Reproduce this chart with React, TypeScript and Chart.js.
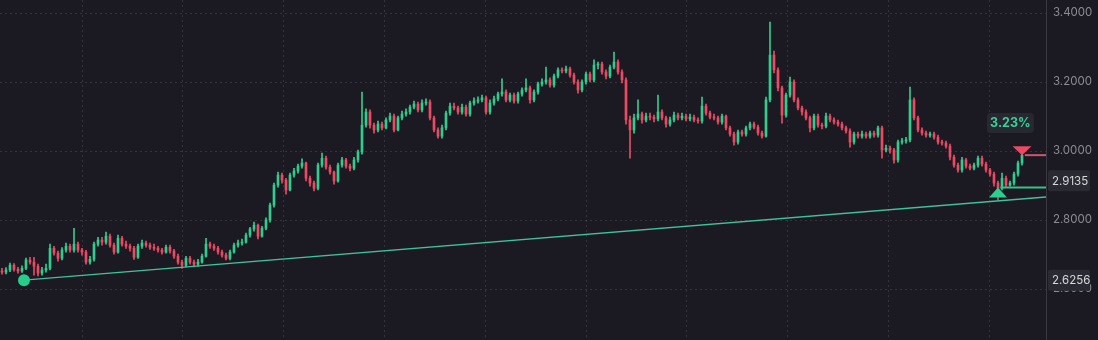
import { useEffect, useRef } from "react";
import { Chart, registerables } from "chart.js";

Chart.register(...registerables);

// ---------- data ----------
const FIRST_OPEN = 2.652;

const closes = [
  2.649, 2.655, 2.669, 2.657, 2.652, 2.660, 2.684, 2.678, 2.666, 2.646,
  2.655, 2.660, 2.718, 2.704, 2.689, 2.713, 2.724, 2.713, 2.730, 2.713,
  2.707, 2.678, 2.686, 2.730, 2.742, 2.736, 2.753, 2.727, 2.707, 2.747,
  2.730, 2.724, 2.718, 2.692, 2.724, 2.733, 2.727, 2.721, 2.718, 2.713,
  2.707, 2.721, 2.710, 2.695, 2.678, 2.669, 2.689, 2.678, 2.672, 2.678,
  2.695, 2.730, 2.724, 2.718, 2.707, 2.698, 2.689, 2.707, 2.727, 2.733,
  2.736, 2.756, 2.774, 2.785, 2.753, 2.776, 2.800, 2.843, 2.901, 2.930,
  2.916, 2.887, 2.930, 2.942, 2.956, 2.965, 2.921, 2.907, 2.892, 2.959,
  2.979, 2.953, 2.939, 2.913, 2.959, 2.974, 2.956, 2.950, 2.974, 2.997,
  3.075, 3.113, 3.075, 3.061, 3.078, 3.067, 3.090, 3.101, 3.061, 3.096,
  3.107, 3.113, 3.127, 3.136, 3.119, 3.139, 3.142, 3.096, 3.061, 3.043,
  3.067, 3.110, 3.130, 3.125, 3.113, 3.127, 3.107, 3.139, 3.145, 3.148,
  3.154, 3.113, 3.139, 3.151, 3.165, 3.171, 3.148, 3.162, 3.145, 3.165,
  3.177, 3.183, 3.148, 3.171, 3.194, 3.200, 3.206, 3.191, 3.217, 3.235,
  3.232, 3.238, 3.220, 3.200, 3.177, 3.200, 3.223, 3.206, 3.249, 3.252,
  3.229, 3.217, 3.243, 3.258, 3.229, 3.206, 3.090, 3.061, 3.096, 3.107,
  3.090, 3.101, 3.098, 3.093, 3.113, 3.096, 3.078, 3.090, 3.104, 3.096,
  3.101, 3.093, 3.098, 3.090, 3.087, 3.130, 3.110, 3.098, 3.096, 3.084,
  3.101, 3.067, 3.049, 3.026, 3.055, 3.049, 3.067, 3.078, 3.069, 3.052,
  3.043, 3.148, 3.278, 3.235, 3.183, 3.104, 3.162, 3.200, 3.148, 3.125,
  3.113, 3.096, 3.067, 3.101, 3.075, 3.072, 3.101, 3.090, 3.084, 3.078,
  3.067, 3.058, 3.026, 3.049, 3.043, 3.049, 3.043, 3.052, 3.046, 3.067,
  3.003, 3.008, 3.003, 2.974, 3.026, 3.029, 3.032, 3.148, 3.096, 3.061,
  3.052, 3.046, 3.049, 3.040, 3.026, 3.023, 3.014, 2.982, 2.959, 2.945,
  2.974, 2.956, 2.950, 2.959, 2.979, 2.962, 2.945, 2.933, 2.907, 2.892,
  2.921, 2.901, 2.907, 2.933, 2.965, 2.988,
];

const highs = [
  2.660, 2.662, 2.675, 2.674, 2.663, 2.667, 2.690, 2.692, 2.692, 2.672,
  2.663, 2.672, 2.730, 2.724, 2.710, 2.720, 2.733, 2.730, 2.776, 2.736,
  2.718, 2.712, 2.695, 2.736, 2.750, 2.750, 2.765, 2.759, 2.733, 2.756,
  2.753, 2.739, 2.730, 2.724, 2.730, 2.742, 2.739, 2.733, 2.730, 2.724,
  2.718, 2.727, 2.727, 2.715, 2.701, 2.684, 2.695, 2.695, 2.684, 2.686,
  2.701, 2.747, 2.736, 2.730, 2.724, 2.713, 2.704, 2.713, 2.733, 2.742,
  2.745, 2.762, 2.779, 2.794, 2.788, 2.782, 2.806, 2.849, 2.907, 2.939,
  2.936, 2.921, 2.936, 2.950, 2.962, 2.977, 2.968, 2.927, 2.913, 2.965,
  2.994, 2.985, 2.959, 2.942, 2.965, 2.982, 2.979, 2.962, 2.982, 3.003,
  3.171, 3.122, 3.119, 3.081, 3.087, 3.084, 3.096, 3.110, 3.107, 3.101,
  3.116, 3.122, 3.133, 3.145, 3.142, 3.148, 3.151, 3.148, 3.101, 3.067,
  3.075, 3.116, 3.139, 3.139, 3.130, 3.136, 3.133, 3.145, 3.154, 3.157,
  3.162, 3.159, 3.148, 3.159, 3.171, 3.209, 3.177, 3.168, 3.168, 3.171,
  3.183, 3.209, 3.188, 3.177, 3.200, 3.209, 3.243, 3.212, 3.223, 3.241,
  3.241, 3.246, 3.243, 3.226, 3.206, 3.206, 3.229, 3.229, 3.264, 3.258,
  3.258, 3.235, 3.249, 3.287, 3.264, 3.235, 3.212, 3.101, 3.107, 3.148,
  3.113, 3.110, 3.110, 3.104, 3.162, 3.119, 3.101, 3.098, 3.113, 3.110,
  3.110, 3.107, 3.107, 3.104, 3.096, 3.156, 3.136, 3.116, 3.107, 3.101,
  3.107, 3.104, 3.072, 3.055, 3.061, 3.061, 3.072, 3.084, 3.084, 3.075,
  3.058, 3.156, 3.374, 3.290, 3.241, 3.188, 3.168, 3.214, 3.206, 3.154,
  3.130, 3.119, 3.101, 3.107, 3.107, 3.081, 3.110, 3.107, 3.096, 3.090,
  3.084, 3.072, 3.064, 3.055, 3.055, 3.058, 3.055, 3.058, 3.058, 3.072,
  3.072, 3.017, 3.014, 3.008, 3.032, 3.037, 3.040, 3.185, 3.154, 3.101,
  3.067, 3.058, 3.055, 3.055, 3.046, 3.032, 3.029, 3.020, 2.988, 2.965,
  2.982, 2.979, 2.962, 2.965, 2.985, 2.985, 2.968, 2.950, 2.939, 2.913,
  2.936, 2.927, 2.913, 2.939, 2.971, 2.994,
];

const lows = [
  2.643, 2.644, 2.650, 2.652, 2.646, 2.648, 2.656, 2.672, 2.640, 2.638,
  2.640, 2.649, 2.655, 2.698, 2.681, 2.684, 2.707, 2.707, 2.707, 2.707,
  2.698, 2.672, 2.672, 2.681, 2.724, 2.727, 2.730, 2.721, 2.701, 2.704,
  2.724, 2.718, 2.710, 2.686, 2.689, 2.718, 2.721, 2.715, 2.712, 2.707,
  2.701, 2.704, 2.704, 2.689, 2.672, 2.660, 2.664, 2.672, 2.664, 2.666,
  2.675, 2.692, 2.718, 2.712, 2.701, 2.692, 2.684, 2.684, 2.704, 2.721,
  2.727, 2.733, 2.750, 2.768, 2.745, 2.750, 2.771, 2.794, 2.837, 2.895,
  2.907, 2.875, 2.884, 2.924, 2.936, 2.950, 2.913, 2.898, 2.884, 2.887,
  2.953, 2.947, 2.933, 2.904, 2.910, 2.953, 2.950, 2.942, 2.945, 2.968,
  2.991, 3.069, 3.066, 3.052, 3.055, 3.061, 3.064, 3.084, 3.055, 3.058,
  3.090, 3.101, 3.107, 3.122, 3.113, 3.113, 3.133, 3.090, 3.055, 3.037,
  3.037, 3.061, 3.104, 3.119, 3.107, 3.107, 3.101, 3.101, 3.133, 3.139,
  3.142, 3.107, 3.107, 3.133, 3.145, 3.159, 3.142, 3.142, 3.139, 3.139,
  3.159, 3.171, 3.139, 3.142, 3.165, 3.188, 3.194, 3.185, 3.185, 3.212,
  3.226, 3.226, 3.214, 3.194, 3.168, 3.171, 3.194, 3.200, 3.200, 3.238,
  3.223, 3.209, 3.212, 3.238, 3.223, 3.197, 3.078, 2.979, 3.052, 3.090,
  3.081, 3.084, 3.090, 3.084, 3.087, 3.090, 3.069, 3.072, 3.084, 3.090,
  3.090, 3.087, 3.087, 3.084, 3.081, 3.081, 3.104, 3.093, 3.090, 3.078,
  3.078, 3.061, 3.043, 3.017, 3.020, 3.043, 3.043, 3.061, 3.064, 3.046,
  3.037, 3.040, 3.142, 3.226, 3.174, 3.081, 3.098, 3.156, 3.142, 3.119,
  3.104, 3.090, 3.055, 3.061, 3.069, 3.064, 3.067, 3.084, 3.078, 3.072,
  3.061, 3.052, 3.011, 3.020, 3.037, 3.037, 3.037, 3.037, 3.040, 3.040,
  2.979, 2.997, 2.994, 2.965, 2.968, 3.020, 3.023, 3.026, 3.090, 3.055,
  3.046, 3.040, 3.040, 3.034, 3.020, 3.017, 3.008, 2.974, 2.953, 2.939,
  2.939, 2.950, 2.945, 2.945, 2.953, 2.956, 2.939, 2.927, 2.898, 2.858,
  2.887, 2.895, 2.898, 2.901, 2.927, 2.959,
];

const yTicks = [2.6, 2.8, 3.0, 3.2, 3.4];
const timeGridTicks = [20, 45.2, 70.4, 95.6, 120.8, 146, 171.2, 196.4, 221.6, 246.8];

const trendStart = { x: 5.5, y: 2.6256 };
const trendEnd = { x: 261, y: 2.8667 };

const entryIndex = 249;
const entryPrice = 2.8945;
const exitIndex = 255;
const exitPrice = 2.988;
const lineEndIndex = 261;
const currentPrice = 2.9135;
const anchorPrice = 2.6256;
const pnlText = "3.23%";
const pnlAnchor = { x: 252.1, y: 3.081 };

const X_MIN = -0.5;
const X_MAX = 261;
const Y_MIN = 2.4522;
const Y_MAX = 3.4377;

// ---------- styles ----------
const BG = "#1b1a22";
const UP = "#2ccf8e";
const DOWN = "#ee4862";
const TREND = "#3cc39b";
const GRID = "rgba(255,255,255,0.11)";
const TICK = "#8c8b94";
const FONT = "Inter, 'Open Sans', sans-serif";

export default function App() {
  const ref = useRef<HTMLCanvasElement>(null);

  useEffect(() => {
    document.body.style.margin = "0";
    document.body.style.background = BG;
    const canvas = ref.current;
    if (!canvas) return;

    const opens = closes.map((_, i) => (i === 0 ? FIRST_OPEN : closes[i - 1]));
    const colorAt = (i: number) => (closes[i] >= opens[i] ? UP : DOWN);
    const bodies = closes.map((c, i) => ({ x: i, y: [opens[i], c] }));
    const wicks = closes.map((_, i) => ({ x: i, y: [lows[i], highs[i]] }));

    const overlay = {
      id: "overlay",
      beforeDraw(chart: any) {
        const { ctx, width, height } = chart;
        ctx.save();
        ctx.fillStyle = BG;
        ctx.fillRect(0, 0, width, height);
        ctx.restore();
      },
      afterDatasetsDraw(chart: any) {
        const { ctx, scales } = chart;
        const xs = scales.x;
        const ys = scales.y;
        ctx.save();
        // buy marker
        const bx = xs.getPixelForValue(entryIndex);
        const by = ys.getPixelForValue(entryPrice);
        ctx.fillStyle = UP;
        ctx.beginPath();
        ctx.moveTo(bx, by);
        ctx.lineTo(bx + 9, by + 10);
        ctx.lineTo(bx - 9, by + 10);
        ctx.closePath();
        ctx.fill();
        // sell marker
        const sx = xs.getPixelForValue(exitIndex);
        const sy = ys.getPixelForValue(exitPrice);
        ctx.fillStyle = DOWN;
        ctx.beginPath();
        ctx.moveTo(sx, sy);
        ctx.lineTo(sx + 9.5, sy - 9);
        ctx.lineTo(sx - 9.5, sy - 9);
        ctx.closePath();
        ctx.fill();
        ctx.restore();
      },
      afterDraw(chart: any) {
        const { ctx, scales, chartArea } = chart;
        const xs = scales.x;
        const ys = scales.y;
        ctx.save();
        // pnl label
        const px = xs.getPixelForValue(pnlAnchor.x);
        const py = ys.getPixelForValue(pnlAnchor.y);
        ctx.fillStyle = "#282830";
        ctx.beginPath();
        ctx.roundRect(px - 23.5, py - 10, 47, 20, 4);
        ctx.fill();
        ctx.font = `bold 12.5px ${FONT}`;
        ctx.fillStyle = "#34d39a";
        ctx.textAlign = "center";
        ctx.textBaseline = "middle";
        ctx.fillText(pnlText, px, py + 0.5);
        // axis price boxes
        const boxes = [currentPrice, anchorPrice];
        ctx.font = `11.5px ${FONT}`;
        ctx.textAlign = "left";
        boxes.forEach((v) => {
          const y = ys.getPixelForValue(v);
          const x0 = chartArea.right + 2;
          ctx.fillStyle = "#2a2a32";
          ctx.beginPath();
          ctx.roundRect(x0, y - 10.5, 42, 21, 2);
          ctx.fill();
          ctx.fillStyle = "#d6d6dc";
          ctx.fillText(v.toFixed(4), x0 + 4, y + 0.5);
        });
        ctx.restore();
      },
    };

    const chart = new Chart(canvas, {
      type: "bar",
      data: {
        datasets: [
          {
            type: "line",
            data: [trendStart],
            showLine: false,
            pointRadius: 6,
            pointBackgroundColor: "#25cc8a",
            pointBorderWidth: 0,
            order: 0,
          } as any,
          {
            type: "line",
            data: [trendStart, trendEnd],
            borderColor: TREND,
            borderWidth: 1.4,
            pointRadius: 0,
            order: 1,
          } as any,
          {
            type: "line",
            data: [
              { x: entryIndex + 0.6, y: entryPrice },
              { x: lineEndIndex, y: entryPrice },
            ],
            borderColor: "#3bbf8c",
            borderWidth: 2,
            pointRadius: 0,
            order: 1,
          } as any,
          {
            type: "line",
            data: [
              { x: exitIndex + 0.7, y: exitPrice },
              { x: lineEndIndex, y: exitPrice },
            ],
            borderColor: "#cf566a",
            borderWidth: 2,
            pointRadius: 0,
            order: 1,
          } as any,
          {
            type: "bar",
            data: bodies,
            backgroundColor: (c: any) => colorAt(c.dataIndex),
            barThickness: 2,
            minBarLength: 1,
            grouped: false,
            borderWidth: 0,
            order: 2,
          } as any,
          {
            type: "bar",
            data: wicks,
            backgroundColor: (c: any) => colorAt(c.dataIndex),
            barThickness: 1,
            grouped: false,
            borderWidth: 0,
            order: 3,
          } as any,
        ],
      },
      options: {
        responsive: false,
        maintainAspectRatio: false,
        animation: false,
        events: [],
        layout: { padding: 0, autoPadding: false },
        plugins: {
          legend: { display: false },
          tooltip: { enabled: false },
        },
        scales: {
          x: {
            type: "linear",
            min: X_MIN,
            max: X_MAX,
            offset: false,
            grid: { color: GRID, drawTicks: false, offset: false },
            border: { display: false, dash: [2, 3] },
            ticks: { display: false },
            afterBuildTicks: (s: any) => {
              s.ticks = timeGridTicks.map((v) => ({ value: v }));
            },
          },
          y: {
            type: "linear",
            position: "right",
            min: Y_MIN,
            max: Y_MAX,
            grid: { color: GRID, drawTicks: false },
            border: { display: true, color: "#3a3943", dash: [2, 3] },
            ticks: {
              color: TICK,
              padding: 7,
              font: { family: FONT, size: 11.5 },
              callback: (v: any) => Number(v).toFixed(4),
            },
            afterBuildTicks: (s: any) => {
              s.ticks = yTicks.map((v) => ({ value: v }));
            },
            afterFit: (s: any) => {
              s.width = 52;
              s.paddingTop = 0;
              s.paddingBottom = 0;
            },
          },
        } as any,
      },
      plugins: [overlay],
    } as any);

    return () => chart.destroy();
  }, []);

  return (
    <div style={{ width: 1098, height: 340, background: BG }}>
      <canvas ref={ref} width={1098} height={340} style={{ display: "block" }} />
    </div>
  );
}
